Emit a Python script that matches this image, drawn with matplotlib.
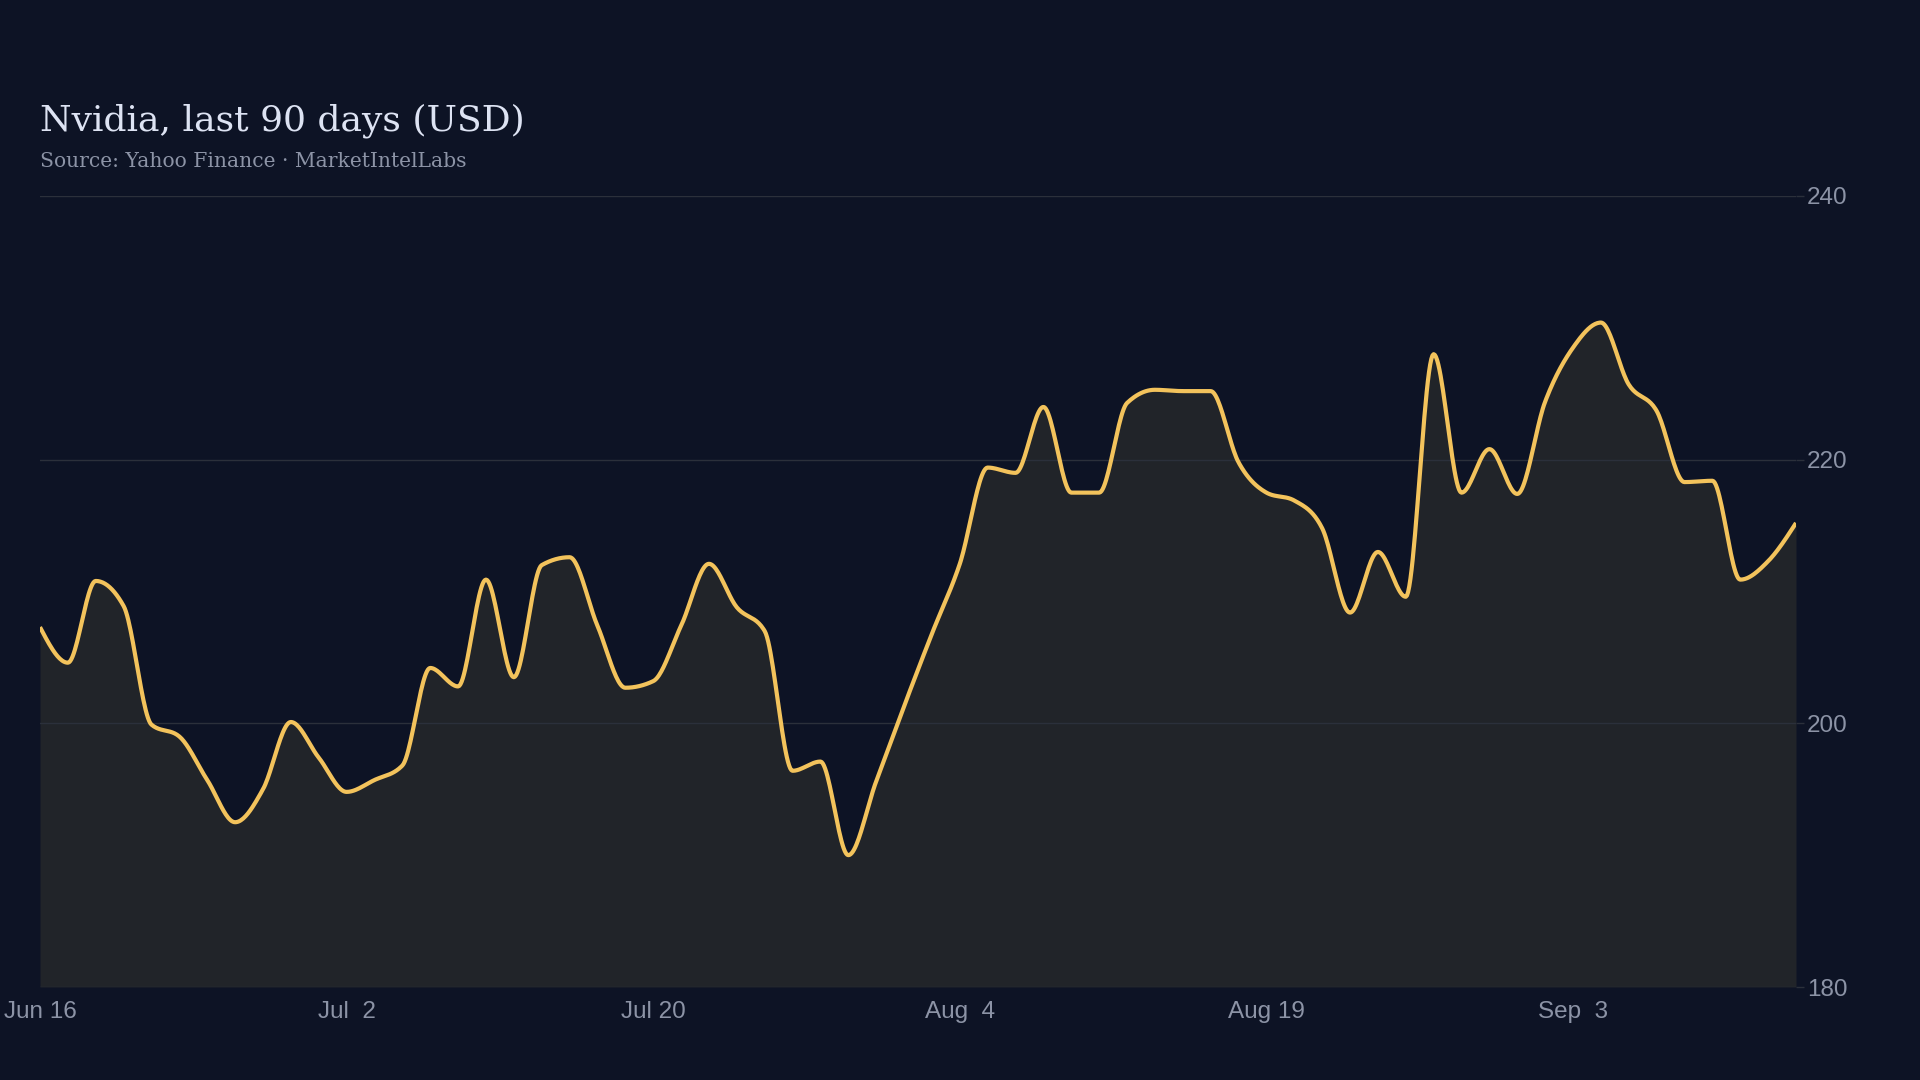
import matplotlib
matplotlib.use("Agg")
import matplotlib.pyplot as plt
import numpy as np

# Nvidia close, last 90 days (trading days)
prices = [207.3, 204.6, 210.8, 208.9, 199.9, 199.0, 195.7, 192.5, 195.0, 200.1,
          197.4, 194.8, 195.7, 196.8, 204.2, 202.8, 210.9, 203.5, 212.0, 212.6,
          207.4, 202.7, 203.2, 207.4, 212.1, 208.8, 207.0, 196.4, 197.1, 190.0,
          195.6, 201.3, 206.8, 212.1, 219.4, 219.0, 224.0, 217.5, 217.5, 224.3,
          225.3, 225.2, 225.2, 219.8, 217.5, 216.9, 214.8, 208.4, 213.0, 209.6,
          228.0, 217.5, 220.8, 217.4, 224.4, 228.5, 230.4, 225.7, 223.7, 218.3,
          218.4, 210.9, 212.3, 215.2]
tick_pos = [0, 11, 22, 33, 44, 55]
tick_labels = ["Jun 16", "Jul  2", "Jul 20", "Aug  4", "Aug 19", "Sep  3"]
y_ticks = [180, 200, 220, 240]

BG = "#0d1325"
FILL = "#212429"
LINE = "#f3c35c"
GRID = "#2b303b"
MUTED = "#8c93a6"


def monotone_x(x, y, n=24):
    # monotone cubic (same idea as d3.curveMonotoneX) just for drawing
    x = np.asarray(x, float)
    y = np.asarray(y, float)
    h = np.diff(x)
    s = np.diff(y) / h
    m = np.zeros_like(y)
    for i in range(1, len(y) - 1):
        p = (s[i - 1] * h[i] + s[i] * h[i - 1]) / (h[i - 1] + h[i])
        m[i] = (np.sign(s[i - 1]) + np.sign(s[i])) * min(abs(s[i - 1]), abs(s[i]), 0.5 * abs(p))
    m[0] = (3 * s[0] - m[1]) / 2
    m[-1] = (3 * s[-1] - m[-2]) / 2
    xs, ys = [], []
    for i in range(len(x) - 1):
        t = np.linspace(0, 1, n, endpoint=False)
        h00 = 2 * t**3 - 3 * t**2 + 1
        h10 = t**3 - 2 * t**2 + t
        h01 = -2 * t**3 + 3 * t**2
        h11 = t**3 - t**2
        xs.append(x[i] + t * h[i])
        ys.append(h00 * y[i] + h10 * h[i] * m[i] + h01 * y[i + 1] + h11 * h[i] * m[i + 1])
    xs.append([x[-1]])
    ys.append([y[-1]])
    return np.concatenate(xs), np.concatenate(ys)


idx = np.arange(len(prices))
sx, sy = monotone_x(idx, prices)

fig = plt.figure(figsize=(19.2, 10.8), dpi=100, facecolor=BG)
ax = fig.add_axes([40 / 1920, 1 - 987 / 1080, 1756 / 1920, 791 / 1080])
ax.set_facecolor(BG)

ax.fill_between(sx, sy, 180, color=FILL, linewidth=0, zorder=1)
ax.plot(sx, sy, color=LINE, linewidth=3.0, solid_capstyle="butt", zorder=3)

ax.set_xlim(0, len(prices) - 1)
ax.set_ylim(180, 240)
ax.set_yticks(y_ticks)
ax.set_xticks(tick_pos)
ax.set_xticklabels(tick_labels)
ax.yaxis.tick_right()
ax.grid(axis="y", color=GRID, linewidth=1, zorder=2)
for sp in ax.spines.values():
    sp.set_visible(False)

ax.tick_params(axis="y", length=6, width=1, color=GRID, pad=2,
               labelsize=17.5, labelcolor=MUTED)
ax.tick_params(axis="x", length=0, pad=10, labelsize=17.5, labelcolor=MUTED)
for lab in ax.get_xticklabels() + ax.get_yticklabels():
    lab.set_family("Liberation Sans")

fig.text(40 / 1920, 1 - 130 / 1080, "Nvidia, last 90 days (USD)",
         family="DejaVu Serif", fontsize=26, color="#dde3f3", va="baseline")
fig.text(40 / 1920, 1 - 167 / 1080, "Source: Yahoo Finance · MarketIntelLabs",
         family="DejaVu Serif", fontsize=14.6, color=MUTED, va="baseline")

fig.savefig("out.png", dpi=100, facecolor=BG)
